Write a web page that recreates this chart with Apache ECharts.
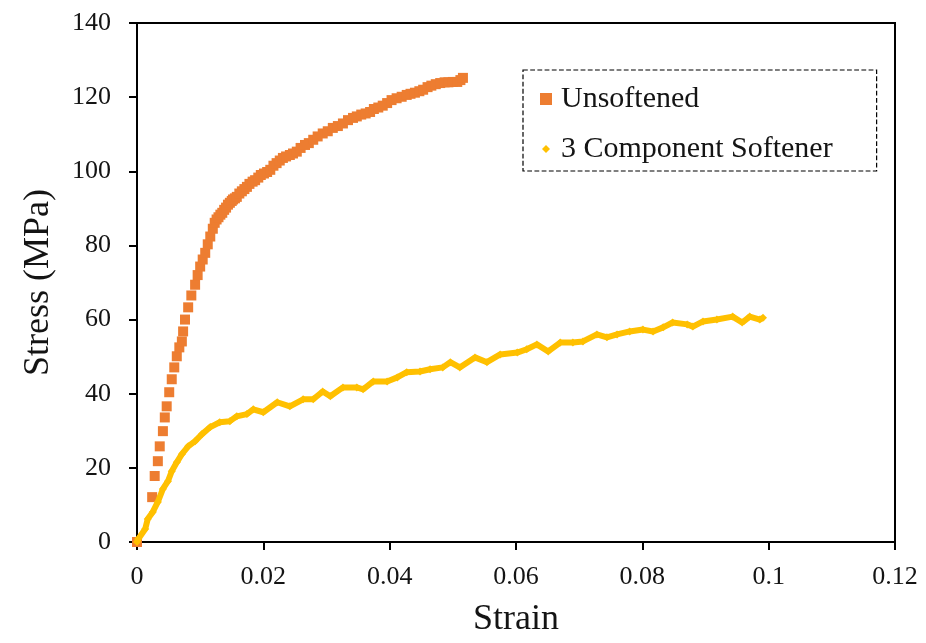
<!DOCTYPE html>
<html>
<head>
<meta charset="utf-8">
<script src="https://cdn.jsdelivr.net/npm/echarts@6/dist/echarts.min.js"></script>
<style>
html,body{margin:0;padding:0;background:#fff;}
#chart{width:926px;height:643px;}
</style>
</head>
<body>
<div id="chart"></div>
<script>
var seriesNames = ['Unsoftened', '3 Component Softener'];
var xTicks = [0, 0.02, 0.04, 0.06, 0.08, 0.1, 0.12];
var yTicks = [0, 20, 40, 60, 80, 100, 120, 140];

// [strain, stress MPa]
var unsoftened = [
  [0,0],
  [0.0024,12.1],[0.0028,17.8],[0.0033,21.8],[0.0036,25.8],[0.0041,29.9],[0.0044,33.6],
  [0.0047,36.6],[0.0051,40.4],[0.0055,43.9],[0.0059,47.1],[0.0063,50.1],[0.0067,52.5],
  [0.0071,54.1],[0.0073,56.8],[0.0076,60.0],[0.0081,63.3],[0.0086,66.5],[0.0092,69.4],
  [0.0096,72.0],[0.0100,74.3],[0.0104,76.2],[0.0108,78.0],[0.0112,80.3],[0.0116,82.4],
  [0.0120,84.5],[0.0123,86.1],[0.0126,87.0],[0.0129,87.6],[0.0132,88.3],[0.0135,88.8],
  [0.0138,89.6],[0.0141,90.2],[0.0144,91.0],[0.0147,91.5],[0.0150,92.0],[0.0152,92.4],
  [0.0155,92.7],[0.0158,93.1],[0.0162,94.0],[0.0166,94.6],[0.0170,95.2],[0.0174,95.8],
  [0.0178,96.6],[0.0183,97.2],[0.0187,97.6],[0.0192,98.3],[0.0196,99.0],[0.0201,99.4],
  [0.0206,99.8],[0.0211,100.4],[0.0216,101.5],[0.0221,102.2],[0.0226,102.9],[0.0231,103.6],
  [0.0236,104.0],[0.0242,104.4],[0.0247,104.8],[0.0253,105.3],[0.0259,106.3],[0.0266,107.1],
  [0.0272,107.6],[0.0279,108.5],[0.0286,109.4],[0.0294,110.2],[0.0302,110.8],[0.0310,111.7],
  [0.0318,112.2],[0.0326,112.9],[0.0334,113.8],[0.0342,114.4],[0.0348,114.8],[0.0355,115.3],
  [0.0362,115.6],[0.0369,116.0],[0.0375,116.8],[0.0382,117.2],[0.0389,117.7],[0.0396,118.4],
  [0.0403,119.2],[0.0411,119.7],[0.0419,120.1],[0.0427,120.6],[0.0433,120.9],[0.0440,121.2],
  [0.0447,121.6],[0.0453,122.0],[0.0460,122.7],[0.0466,123.1],[0.0473,123.5],[0.0480,123.8],
  [0.0487,124.0],[0.0493,124.0],[0.0500,124.1],[0.0507,124.1],[0.0512,124.6],[0.0516,125.2]
];

var softener = [
  [0,0],[0.0002,0.8],[0.0013,3.5],[0.0017,6.2],[0.0025,8.1],[0.0033,10.8],[0.0041,14.3],
  [0.0049,16.4],[0.0055,19.1],[0.0063,21.5],[0.0071,23.7],[0.0081,25.8],[0.0092,27.2],
  [0.0103,29.1],[0.0116,31.0],[0.0131,32.3],[0.0147,32.6],[0.0158,33.9],[0.0174,34.5],
  [0.0184,35.8],[0.0200,35.0],[0.0222,37.7],[0.0242,36.6],[0.0263,38.5],[0.0279,38.5],
  [0.0294,40.6],[0.0306,39.3],[0.0326,41.7],[0.0348,41.7],[0.0358,41.2],[0.0374,43.3],
  [0.0396,43.3],[0.0412,44.4],[0.0427,45.8],[0.0448,46.0],[0.0464,46.6],[0.0484,47.1],
  [0.0496,48.5],[0.0511,47.1],[0.0535,49.8],[0.0554,48.5],[0.0575,50.6],[0.0602,51.1],
  [0.0617,52.0],[0.0633,53.3],[0.0651,51.4],[0.0670,53.8],[0.0690,53.8],[0.0706,54.1],
  [0.0728,56.0],[0.0744,55.2],[0.0760,56.0],[0.0780,56.8],[0.0801,57.3],[0.0817,56.8],
  [0.0833,57.9],[0.0848,59.2],[0.0871,58.7],[0.0880,58.1],[0.0896,59.5],[0.0918,60.0],
  [0.0943,60.8],[0.0958,59.2],[0.0970,60.8],[0.0986,60.0],[0.0991,60.5]
];

var FONT = 'Liberation Serif';
var TXT = '#141414';
var chart = echarts.init(document.getElementById('chart'));
chart.setOption({
  animation: false,
  backgroundColor: '#fff',
  grid: {left: 137, right: 31, top: 23, bottom: 100, show: true, borderColor: '#000', borderWidth: 2, backgroundColor: 'transparent'},
  legend: {
    orient: 'vertical', left: 523, top: 70,
    borderType: 'dashed', borderColor: '#000', borderWidth: 1.2,
    padding: [14, 44, 7, 17],
    itemWidth: 12, itemHeight: 12, itemGap: 20,
    textStyle: {fontFamily: FONT, fontSize: 30, color: TXT, padding: [0,0,0,4]},
    data: [
      {name: seriesNames[0], icon: 'rect', itemStyle: {color: '#ED7D31'}},
      {name: seriesNames[1], icon: 'path://M0,0 L0,0 M12,12 L12,12 M6,2 L10,6 L6,10 L2,6 Z', itemStyle: {color: '#FFC000'}}
    ]
  },
  xAxis: {
    type: 'value', min: 0, max: 0.12, interval: 0.02,
    name: 'Strain', nameLocation: 'middle', nameGap: 60,
    nameTextStyle: {fontFamily: FONT, fontSize: 36, color: TXT},
    axisLine: {show: true, lineStyle: {color: '#000', width: 2}},
    axisTick: {show: true, inside: false, length: 8, lineStyle: {color: '#000', width: 2}},
    axisLabel: {fontFamily: FONT, fontSize: 26, color: TXT, margin: 22,
      formatter: function (v) { var t = xTicks.filter(function(k){return Math.abs(k - v) < 1e-9;}); return t.length ? String(t[0]) : ''; }},
    splitLine: {show: false}
  },
  yAxis: {
    type: 'value', min: 0, max: 140, interval: 20,
    name: 'Stress (MPa)', nameLocation: 'middle', nameGap: 80, nameRotate: 90,
    nameTextStyle: {fontFamily: FONT, fontSize: 36, color: TXT},
    axisLine: {show: true, lineStyle: {color: '#000', width: 2}},
    axisTick: {show: true, inside: false, length: 8, lineStyle: {color: '#000', width: 2}},
    axisLabel: {fontFamily: FONT, fontSize: 26, color: TXT, margin: 26,
      formatter: function (v) { return yTicks.indexOf(v) >= 0 ? String(v) : ''; }},
    splitLine: {show: false}
  },
  series: [
    {
      name: seriesNames[0], type: 'scatter', data: unsoftened,
      symbol: 'rect', symbolSize: 10,
      itemStyle: {color: '#ED7D31', opacity: 1}, z: 3
    },
    {
      name: seriesNames[1], type: 'line', data: softener,
      symbol: 'diamond', symbolSize: 8, showSymbol: true,
      lineStyle: {color: '#FFC000', width: 6},
      itemStyle: {color: '#FFC000'}, z: 4
    }
  ]
});
</script>
</body>
</html>
